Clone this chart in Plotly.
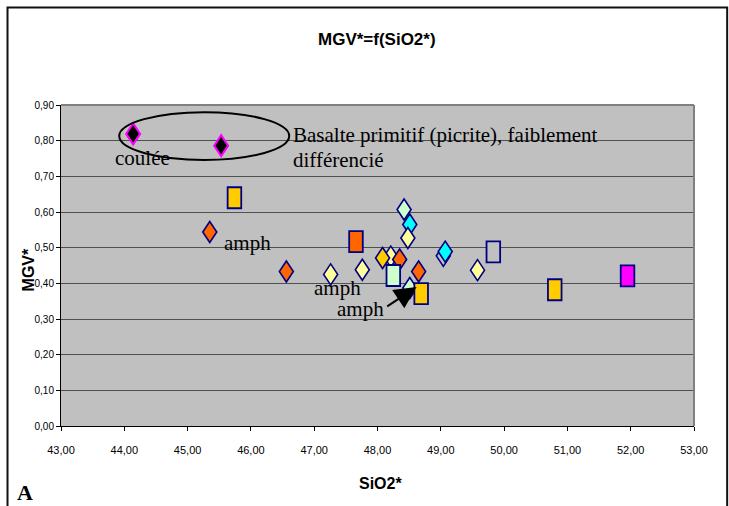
import plotly.graph_objects as go

# ---- data: SiO2* (x) and MGV* (y) by sample group ----
picrite_x = [44.14, 45.53]
picrite_y = [0.819, 0.786]

orange_d_x = [45.35, 46.56, 48.35, 48.65]
orange_d_y = [0.544, 0.433, 0.467, 0.433]

lightyellow_d_x = [47.26, 47.76, 48.21, 48.48, 49.58]
lightyellow_d_y = [0.425, 0.438, 0.475, 0.527, 0.437]

gold_d_x = [48.08]
gold_d_y = [0.471]

lightgreen_d_x = [48.42, 48.51]
lightgreen_d_y = [0.607, 0.387]

cyan_d_x = [48.51, 49.07]
cyan_d_y = [0.565, 0.489]

hollow_d_x = [49.04]
hollow_d_y = [0.477]

gold_s_x = [45.74, 48.69, 50.80]
gold_s_y = [0.640, 0.371, 0.382]

orange_s_x = [47.66]
orange_s_y = [0.517]

lightgreen_s_x = [48.25]
lightgreen_s_y = [0.422]

hollow_s_x = [49.83]
hollow_s_y = [0.488]

magenta_s_x = [51.95]
magenta_s_y = [0.421]

x_range = [43, 53]
y_range = [0, 0.9]

NAVY = "#000080"
SERIF = "Liberation Serif, Times New Roman, serif"
SANS = "Liberation Sans, Arial, sans-serif"

# marker half-sizes in pixels (tall markers)
DW, DH = 7, 10.5
SW, SH = 6.8, 10.5


def diamonds(xs, ys, fill, edge=NAVY, width=1.6):
    return [dict(type="path", xref="x", yref="y",
                 xsizemode="pixel", ysizemode="pixel",
                 xanchor=x, yanchor=y,
                 path=f"M0,{DH} L{DW},0 L0,-{DH} L-{DW},0 Z",
                 fillcolor=fill, line=dict(color=edge, width=width),
                 layer="above")
            for x, y in zip(xs, ys)]


def boxes(xs, ys, fill, edge=NAVY, width=1.8):
    return [dict(type="rect", xref="x", yref="y",
                 xsizemode="pixel", ysizemode="pixel",
                 xanchor=x, yanchor=y,
                 x0=-SW, x1=SW, y0=-SH, y1=SH,
                 fillcolor=fill, line=dict(color=edge, width=width),
                 layer="above")
            for x, y in zip(xs, ys)]


fig = go.Figure()
# empty trace so the axes are built
fig.add_trace(go.Scatter(x=[], y=[], mode="markers", showlegend=False))

shapes = []
# plot-area top / right border
shapes.append(dict(type="line", xref="paper", yref="paper", x0=0, x1=1, y0=1, y1=1,
                   line=dict(color="#808080", width=2)))
shapes.append(dict(type="line", xref="paper", yref="paper", x0=1, x1=1, y0=0, y1=1,
                   line=dict(color="#808080", width=2)))
# outer frame
shapes.append(dict(type="rect", xref="paper", yref="paper",
                   x0=-0.0845, x1=1.0524, y0=-0.30, y1=1.3037,
                   line=dict(color="#111111", width=2), fillcolor="rgba(0,0,0,0)"))

shapes += diamonds(hollow_d_x, hollow_d_y, "#C0C0C0")
shapes += diamonds(lightgreen_d_x, lightgreen_d_y, "#CCFFCC")
shapes += diamonds(cyan_d_x, cyan_d_y, "#00FFFF")
shapes += diamonds(lightyellow_d_x, lightyellow_d_y, "#FFFF99")
shapes += diamonds(gold_d_x, gold_d_y, "#FFCC00")
shapes += diamonds(orange_d_x, orange_d_y, "#FF6600")
shapes += diamonds(picrite_x, picrite_y, "#000000", edge="#FF00FF", width=2)
shapes += boxes(gold_s_x, gold_s_y, "#FFCC00")
shapes += boxes(orange_s_x, orange_s_y, "#FF6600")
shapes += boxes(lightgreen_s_x, lightgreen_s_y, "#CCFFCC")
shapes += boxes(hollow_s_x, hollow_s_y, "#C0C0C0")
shapes += boxes(magenta_s_x, magenta_s_y, "#FF00FF")

# ellipse around the picrite lavas
shapes.append(dict(type="circle", xref="x", yref="y",
                   x0=43.92, x1=46.605, y0=0.746, y1=0.880,
                   line=dict(color="#000000", width=2), layer="above"))


def label(text, x, y, size=21, family=SERIF, xanchor="center", **kw):
    return dict(text=text, x=x, y=y, xanchor=xanchor, yanchor="middle",
                showarrow=False, font=dict(family=family, size=size, color="#000000"), **kw)


annotations = [
    label("<b>MGV*=f(SiO2*)</b>", 0.499, 1.204, 17, SANS, xref="paper", yref="paper"),
    label("<b>SiO2*</b>", 0.505, -0.179, 16, SANS, xref="paper", yref="paper"),
    label("<b>MGV*</b>", -0.052, 0.485, 16, SANS, xref="paper", yref="paper", textangle=-90),
    label("<b>A</b>", -0.0568, -0.208, 22, SERIF, xref="paper", yref="paper"),
    label("coulée", 44.29, 0.752),
    label("Basalte primitif (picrite), faiblement", 46.64, 0.8166, xanchor="left"),
    label("différencié", 46.64, 0.747, xanchor="left"),
    label("amph", 45.94, 0.513),
    label("amph", 47.37, 0.387),
    label("amph", 47.73, 0.328),
    dict(text="", x=48.617, y=0.390, ax=48.13, ay=0.3326, axref="x", ayref="y",
         showarrow=True, arrowhead=2, arrowsize=2.2, arrowwidth=2, arrowcolor="#000000",
         standoff=0),
]

fig.update_layout(
    width=729, height=506,
    margin=dict(l=61, r=34.7, t=105.3, b=80.3),
    paper_bgcolor="#FFFFFF", plot_bgcolor="#C0C0C0",
    separators=", ",
    showlegend=False, hovermode=False,
    shapes=shapes, annotations=annotations,
    font=dict(family=SANS, size=11, color="#000000"),
)
fig.update_xaxes(range=x_range, dtick=1, tick0=43, tickformat=".2f",
                 showgrid=False, zeroline=False,
                 showline=True, linecolor="#000000", linewidth=1,
                 ticks="outside", ticklen=4, tickcolor="#000000",
                 ticklabelstandoff=10,
                 tickfont=dict(family=SANS, size=11))
fig.update_yaxes(range=y_range, dtick=0.1, tick0=0, tickformat=".2f",
                 showgrid=True, gridcolor="#505050", gridwidth=1.3, zeroline=False,
                 showline=True, linecolor="#000000", linewidth=1,
                 ticks="outside", ticklen=4, tickcolor="#000000",
                 tickfont=dict(family=SANS, size=10))

fig.write_html("out.html")
